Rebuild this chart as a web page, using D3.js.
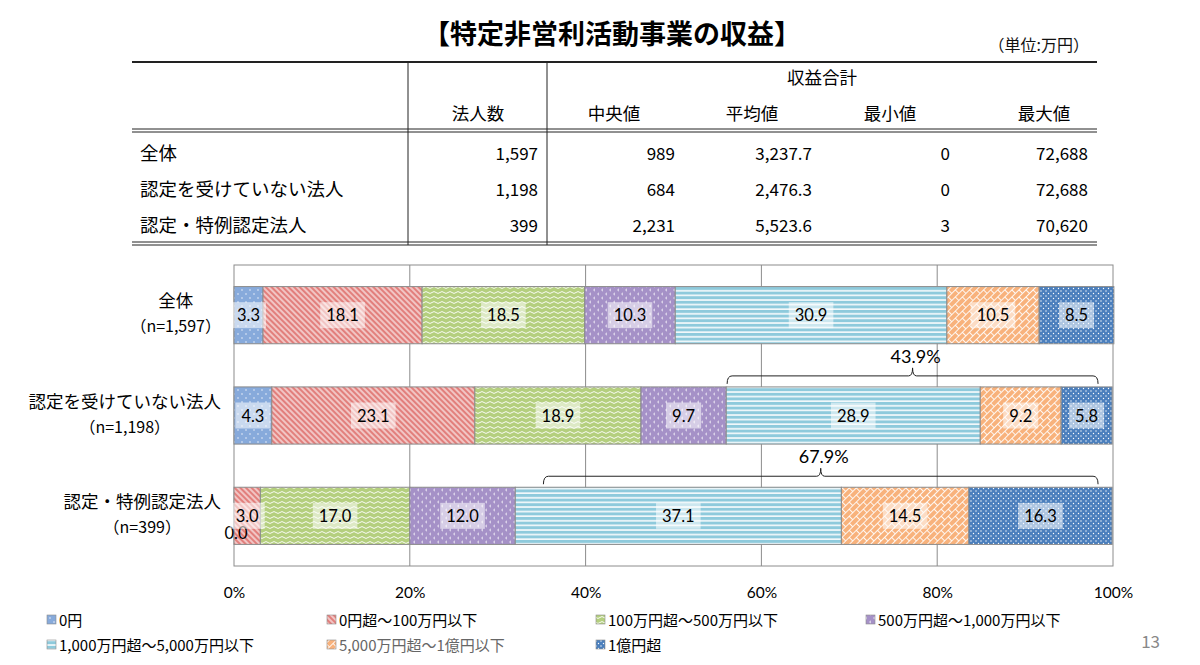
<html>
<head>
<meta charset="utf-8">
<script src="https://cdn.jsdelivr.net/npm/d3@7"></script>
<style>
  * { margin: 0; padding: 0; }
  body { background: #fff; }
  svg text { font-family: "Noto Sans CJK JP", sans-serif; }
  .num { font-family: Lato, "Noto Sans CJK JP", sans-serif; }
  .tbl { font-family: "Liberation Sans Narrow", "Noto Sans CJK JP", sans-serif; }
</style>
</head>
<body>
<div id="chart"></div>
<script>
// ---- data ----
var title = "【特定非営利活動事業の収益】";
var unit = "（単位:万円）";

var tableCols = ["法人数", "中央値", "平均値", "最小値", "最大値"];
var tableGroup = "収益合計";
var tableNames = ["全体", "認定を受けていない法人", "認定・特例認定法人"];
var colCount = ["1,597", "1,198", "399"];
var colMedian = ["989", "684", "2,231"];
var colMean = ["3,237.7", "2,476.3", "5,523.6"];
var colMin = ["0", "0", "3"];
var colMax = ["72,688", "72,688", "70,620"];

var categories = ["全体", "認定を受けていない法人", "認定・特例認定法人"];
var sampleSizes = ["（n=1,597）", "（n=1,198）", "（n=399）"];
var series = ["0円", "0円超～100万円以下", "100万円超～500万円以下", "500万円超～1,000万円以下",
              "1,000万円超～5,000万円以下", "5,000万円超～1億円以下", "1億円超"];
var allValues  = [3.3, 18.1, 18.5, 10.3, 30.9, 10.5, 8.5];
var notCertValues = [4.3, 23.1, 18.9, 9.7, 28.9, 9.2, 5.8];
var certValues = [0.0, 3.0, 17.0, 12.0, 37.1, 14.5, 16.3];
var tickValues = [0, 20, 40, 60, 80, 100];
var tickLabels = ["0%", "20%", "40%", "60%", "80%", "100%"];

// brackets: above which row, span in %, label
var bracketRows = [1, 2];
var bracketFrom = [56.1, 35.2];
var bracketTo = [98.3, 98.3];
var bracketLabels = ["43.9%", "67.9%"];

var pageNo = "13";

// ---- setup ----
var w = 1200, h = 665;
var svg = d3.select("#chart").append("svg").attr("width", w).attr("height", h);
var defs = svg.append("defs");

var colors = ["#87aadb", "#e27f7c", "#b4cf7e", "#a591c7", "#8ecadc", "#f8b27c", "#4b7fbd"];

// patterns
function pat(id, pw, ph, bg, rot) {
  var p = defs.append("pattern").attr("id", id).attr("patternUnits", "userSpaceOnUse")
    .attr("width", pw).attr("height", ph);
  if (rot) p.attr("patternTransform", "rotate(" + rot + ")");
  p.append("rect").attr("width", pw).attr("height", ph).attr("fill", bg);
  return p;
}
var p0 = pat("p0", 8, 8, colors[0]);
p0.append("circle").attr("cx", 2).attr("cy", 2).attr("r", 0.7).attr("fill", "#fff");
p0.append("circle").attr("cx", 6).attr("cy", 6).attr("r", 0.7).attr("fill", "#fff");
var p1 = pat("p1", 4, 4, colors[1], 45);
p1.append("line").attr("x1", 0).attr("x2", 4).attr("y1", 1).attr("y2", 1).attr("stroke", "#fff").attr("stroke-width", 1.1);
var p2 = pat("p2", 8, 5, colors[2]);
p2.append("path").attr("d", "M0,2.5 Q2,0.6 4,2.5 T8,2.5").attr("fill", "none").attr("stroke", "#fff").attr("stroke-width", 0.9);
var p3 = pat("p3", 8, 8, colors[3]);
p3.append("path").attr("d", "M3,0.8 L1.6,2 L3,3.2").attr("fill", "none").attr("stroke", "#fff").attr("stroke-width", 0.8);
p3.append("path").attr("d", "M7,4.8 L5.6,6 L7,7.2").attr("fill", "none").attr("stroke", "#fff").attr("stroke-width", 0.8);
var p4 = pat("p4", 6, 4.6, colors[4]);
p4.append("line").attr("x1", 0).attr("x2", 6).attr("y1", 1).attr("y2", 1).attr("stroke", "#fff").attr("stroke-width", 1.5);
var p5 = pat("p5", 10, 10, colors[5], -45);
p5.append("path").attr("d", "M0,0.5 H10 M0,5.5 H10 M0.5,0.5 V5.5 M5.5,5.5 V10.5").attr("fill", "none").attr("stroke", "#fff").attr("stroke-width", 0.9);
var p6 = pat("p6", 5, 5, colors[6]);
p6.append("circle").attr("cx", 1).attr("cy", 1).attr("r", 0.7).attr("fill", "#fff");
p6.append("circle").attr("cx", 3.5).attr("cy", 3.5).attr("r", 0.7).attr("fill", "#fff");

// ---- title and table ----
svg.append("text").attr("x", 612).attr("y", 44).attr("text-anchor", "middle")
  .attr("font-size", 27).attr("font-weight", "bold").attr("fill", "#000").text(title);
svg.append("text").attr("class", "tbl").attr("x", 1089).attr("y", 51).attr("text-anchor", "end")
  .attr("font-size", 16).attr("fill", "#111").text(unit);

var tL = 132, tR = 1097, tTop = 62, tHead = 129, tBot = 242;
var tline = function (x1, x2, y, sw) {
  svg.append("line").attr("x1", x1).attr("x2", x2).attr("y1", y).attr("y2", y)
    .attr("stroke", "#222").attr("stroke-width", sw);
};
tline(tL, tR, tTop, 2);
tline(tL, tR, tHead, 1);
tline(tL, tR, tHead + 3, 1);
tline(tL, tR, tBot, 1);
tline(tL, tR, tBot + 3, 1);
[408, 547].forEach(function (x) {
  svg.append("line").attr("x1", x).attr("x2", x).attr("y1", tTop).attr("y2", tBot + 3)
    .attr("stroke", "#222").attr("stroke-width", 1);
});
var headX = [478, 614, 752, 890, 1044];
var valRight = [538, 675, 812, 950, 1088];
svg.append("text").attr("class", "tbl").attr("x", 822).attr("y", 84).attr("text-anchor", "middle")
  .attr("font-size", 17.5).attr("fill", "#000").text(tableGroup);
tableCols.forEach(function (c, i) {
  svg.append("text").attr("class", "tbl").attr("x", headX[i]).attr("y", 120).attr("text-anchor", "middle")
    .attr("font-size", 17.5).attr("fill", "#000").text(c);
});
var tableColsData = [colCount, colMedian, colMean, colMin, colMax];
var rowY = [160, 196, 232];
tableNames.forEach(function (n, r) {
  svg.append("text").attr("class", "tbl").attr("x", 140).attr("y", rowY[r])
    .attr("font-size", 18.5).attr("fill", "#000").text(n);
  tableColsData.forEach(function (col, c) {
    svg.append("text").attr("class", "tbl").attr("x", valRight[c]).attr("y", rowY[r])
      .attr("text-anchor", "end").attr("font-size", 17).attr("fill", "#000").text(col[r]);
  });
});

// ---- bar chart ----
var plotL = 234, plotR = 1113, plotT = 265, plotB = 566;
var x = d3.scaleLinear().domain([0, 100]).range([plotL, plotR]);
var y = d3.scaleBand().domain(categories).range([plotT, plotB]).paddingInner(0.43).paddingOuter(0.215);

var rows = [allValues, notCertValues, certValues].map(function (vals, r) {
  var o = { cat: categories[r] };
  series.forEach(function (s, i) { o[s] = vals[i]; });
  return o;
});
var stacked = d3.stack().keys(series)(rows);

// gridlines
svg.append("g").selectAll("line").data(tickValues.slice(1, -1)).enter().append("line")
  .attr("x1", function (d) { return x(d); }).attr("x2", function (d) { return x(d); })
  .attr("y1", plotT).attr("y2", plotB).attr("stroke", "#8c8c8c").attr("stroke-width", 1);
svg.append("rect").attr("x", plotL).attr("y", plotT).attr("width", plotR - plotL).attr("height", plotB - plotT)
  .attr("fill", "none").attr("stroke", "#8c8c8c").attr("stroke-width", 1);

var layers = svg.append("g").selectAll("g").data(stacked).enter().append("g")
  .attr("fill", function (d, i) { return "url(#p" + i + ")"; });
layers.selectAll("rect").data(function (d) { return d; }).enter().append("rect")
  .attr("x", function (d) { return x(d[0]); })
  .attr("y", function (d) { return y(d.data.cat); })
  .attr("width", function (d) { return x(d[1]) - x(d[0]); })
  .attr("height", y.bandwidth())
  .attr("stroke", "#8c8c8c").attr("stroke-width", 1);

// value labels
var lab = svg.append("g");
stacked.forEach(function (layer, si) {
  layer.forEach(function (d, r) {
    var v = d.data[series[si]];
    var cx = (x(d[0]) + x(d[1])) / 2;
    var cy = y(d.data.cat) + y.bandwidth() / 2;
    var dy = 0;
    if (v === 0) { dy = 17; cx += 2; }
    var g = lab.append("g");
    var box = g.append("rect").attr("fill", "#fff").attr("fill-opacity", 0.55);
    var t = g.append("text").attr("class", "num").attr("x", cx).attr("y", cy + dy + 6)
      .attr("text-anchor", "middle").attr("font-size", 16.5).attr("fill", "#000").text(v.toFixed(1));
    var tw = t.node().getComputedTextLength();
    if (v !== 0) {
      box.attr("x", cx - tw / 2 - 6).attr("y", cy - 13).attr("width", tw + 12).attr("height", 26);
    } else {
      box.remove();
    }
  });
});

// brackets
bracketRows.forEach(function (r, i) {
  var x1 = x(bracketFrom[i]), x2 = x(bracketTo[i]), xm = (x1 + x2) / 2;
  var yb = y(categories[r]) - 11;
  var path = "M" + x1 + "," + (yb + 8) + " Q" + x1 + "," + yb + " " + (x1 + 5) + "," + yb +
    " H" + (xm - 4) + " Q" + xm + "," + yb + " " + xm + "," + (yb - 8) +
    " Q" + xm + "," + yb + " " + (xm + 4) + "," + yb +
    " H" + (x2 - 5) + " Q" + x2 + "," + yb + " " + x2 + "," + (yb + 8);
  svg.append("path").attr("d", path).attr("fill", "none").attr("stroke", "#222").attr("stroke-width", 1);
  svg.append("text").attr("class", "num").attr("x", xm + 3).attr("y", yb - 13).attr("text-anchor", "middle")
    .attr("font-size", 18).attr("fill", "#000").text(bracketLabels[i]);
});

// category labels
categories.forEach(function (c, r) {
  var cy = y(c) + y.bandwidth() / 2;
  var g = svg.append("g");
  var t1 = g.append("text").attr("y", cy - 8).attr("text-anchor", "middle").attr("font-size", 17.5)
    .attr("fill", "#000").text(c);
  var t2 = g.append("text").attr("y", cy + 17).attr("text-anchor", "middle").attr("font-size", 16)
    .attr("fill", "#000").text(sampleSizes[r]);
  var mw = Math.max(t1.node().getComputedTextLength(), t2.node().getComputedTextLength());
  var cx = 221 - mw / 2;
  t1.attr("x", cx); t2.attr("x", cx);
});

// x axis
var axis = svg.append("g").attr("transform", "translate(0," + (plotB + 32) + ")")
  .call(d3.axisBottom(x).tickValues(tickValues).tickSize(0).tickPadding(0)
    .tickFormat(function (d, i) { return tickLabels[i]; }));
axis.select(".domain").remove();
axis.selectAll("text").attr("class", "num").attr("font-size", 15.5).attr("fill", "#000").attr("dy", 0);

// legend
var legX = [47, 327, 596, 866];
var leg = svg.append("g");
series.forEach(function (s, i) {
  var lx = legX[i % 4], ly = i < 4 ? 620 : 645;
  leg.append("rect").attr("x", lx).attr("y", ly - 5).attr("width", 9).attr("height", 9)
    .attr("fill", "url(#p" + i + ")").attr("stroke", "#8c8c8c").attr("stroke-width", 0.6);
  leg.append("text").attr("x", lx + 12).attr("y", ly + 5.5).attr("font-size", 15)
    .attr("fill", i === 5 ? "#666" : "#000").text(s);
});

// page number
svg.append("text").attr("x", 1160).attr("y", 648).attr("text-anchor", "end")
  .attr("font-size", 17).attr("fill", "#888").text(pageNo);
</script>
</body>
</html>
